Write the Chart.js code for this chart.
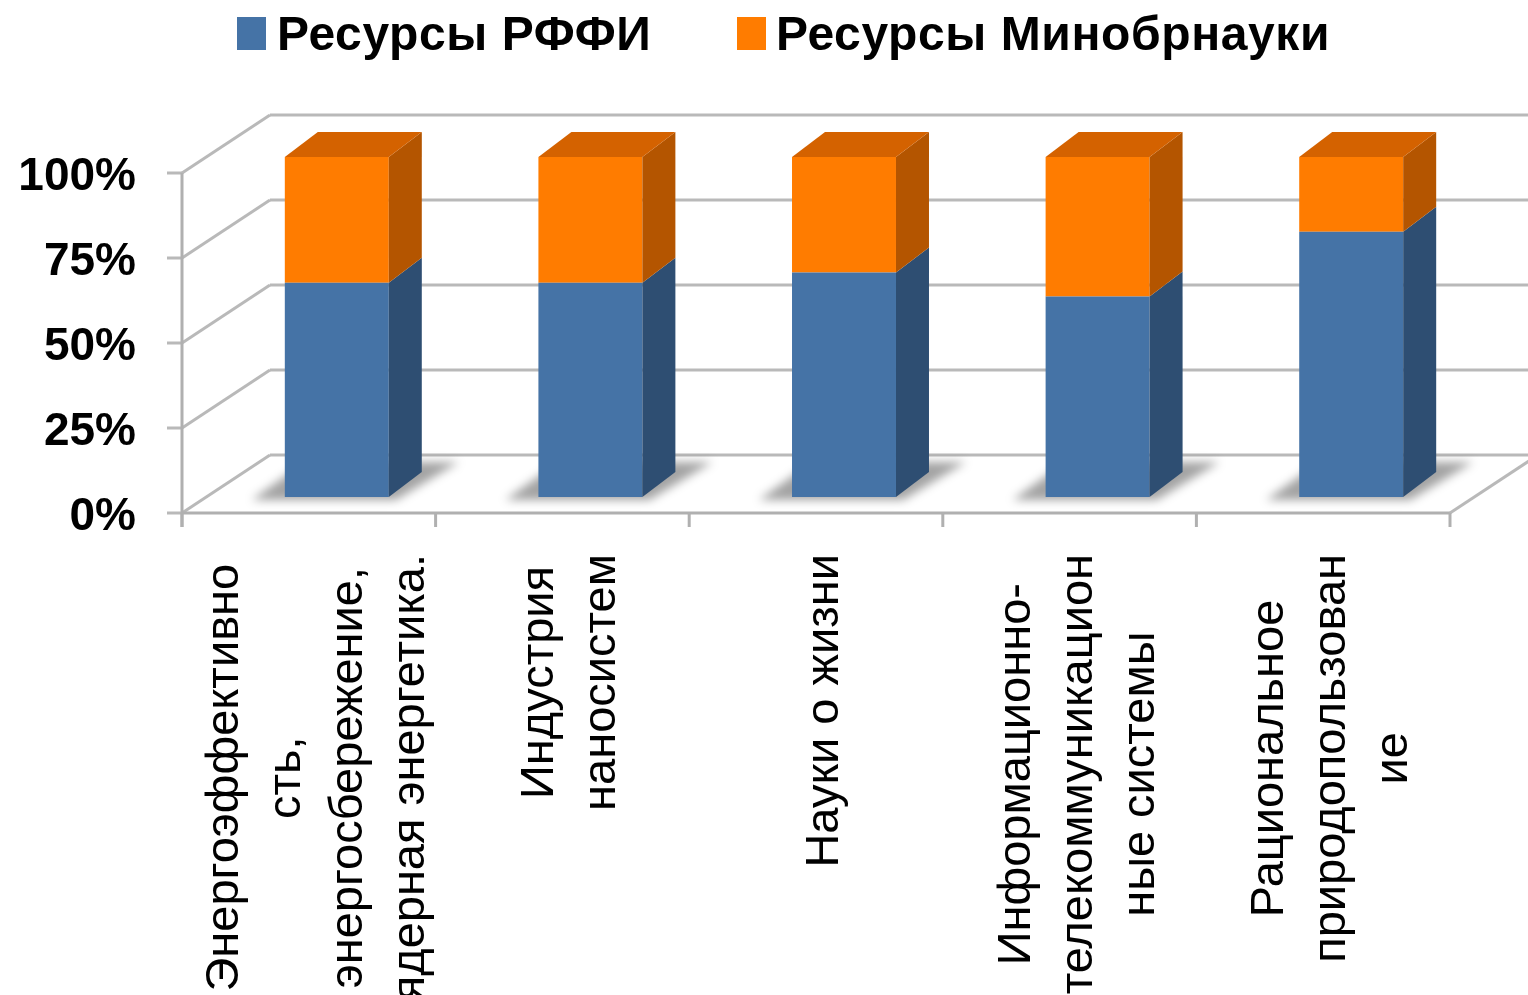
<!DOCTYPE html>
<html>
<head>
<meta charset="utf-8">
<script src="https://cdn.jsdelivr.net/npm/chart.js@4"></script>
<style>
  body { margin: 0; background: #fff; }
  #wrap { position: relative; width: 1528px; height: 995px; overflow: hidden; }
  #c { position: absolute; left: 0; top: 0; }
  .leg { position: absolute; top: 6px; height: 48px; line-height: 48px; font: bold 48px "Liberation Sans", Arial, sans-serif; letter-spacing: 0.6px; color: #000; white-space: nowrap; }
  .box { position: absolute; top: 17px; width: 29px; height: 33px; }
</style>
</head>
<body>
<div id="wrap">
  <canvas id="c" width="1528" height="995"></canvas>
  <div class="box" id="box0" style="left:237px"></div>
  <div class="leg" id="leg0" style="left:277px"></div>
  <div class="box" id="box1" style="left:737px"></div>
  <div class="leg" id="leg1" style="left:776px"></div>
</div>
<script>
// ---- data ----
const categories = [
  ['Энергоэффективно', 'сть,', 'энергосбережение,', 'ядерная энергетика.'],
  ['Индустрия', 'наносистем'],
  ['Науки о жизни'],
  ['Информационно-', 'телекоммуникацион', 'ные системы'],
  ['Рациональное', 'природопользован', 'ие']
];
const seriesNames = ['Ресурсы РФФИ', 'Ресурсы Минобрнауки'];
const rffi = [63, 63, 66, 59, 78];
const minobr = [37, 37, 34, 41, 22];
const yTickValues = [0, 25, 50, 75, 100];
const yTickLabels = ['0%', '25%', '50%', '75%', '100%'];

// ---- styles ----
const frontColors = ['#4573A6', '#FF7C00'];
const sideColors = ['#2E4E72', '#B45500'];
const topColors = ['#3A6290', '#D46200'];

document.getElementById('box0').style.background = frontColors[0];
document.getElementById('box1').style.background = frontColors[1];
document.getElementById('leg0').textContent = seriesNames[0];
document.getElementById('leg1').textContent = seriesNames[1];

const DEPTH = { dx: 33, dy: -25 };     // bar depth
const FRONT = { dx: -28, dy: 16 };     // axis plane relative to bar front plane
const WALL = { dx: 88, dy: -58 };      // back wall relative to axis plane

function line(ctx, x1, y1, x2, y2) {
  ctx.beginPath(); ctx.moveTo(x1, y1); ctx.lineTo(x2, y2); ctx.stroke();
}

const threeD = {
  id: 'threeD',
  beforeDatasetsDraw(chart) {
    const { ctx, chartArea: ca, scales: { x, y } } = chart;
    const n = categories.length;
    const slot = x.getPixelForValue(1) - x.getPixelForValue(0);
    const ax = ca.left + FRONT.dx;
    ctx.save();
    ctx.strokeStyle = '#b9b9b9';
    ctx.lineWidth = 3;
    yTickValues.forEach(v => {
      const py = y.getPixelForValue(v) + FRONT.dy;
      line(ctx, ax, py, ax + WALL.dx, py + WALL.dy);
      line(ctx, ax + WALL.dx, py + WALL.dy, chart.width + 5, py + WALL.dy);
      line(ctx, ax - 15, py, ax, py);
    });
    const y0 = y.getPixelForValue(0) + FRONT.dy;
    const y100 = y.getPixelForValue(100) + FRONT.dy;
    ctx.strokeStyle = '#b0b0b0';
    line(ctx, ax, y100, ax, y0 + 14);
    const rightEnd = x.getPixelForValue(n - 1) + slot / 2 + FRONT.dx;
    line(ctx, ax, y0, rightEnd, y0);
    ctx.strokeStyle = '#b9b9b9';
    line(ctx, rightEnd, y0, rightEnd + WALL.dx, y0 + WALL.dy);
    ctx.strokeStyle = '#b0b0b0';
    for (let i = 0; i <= n; i++) {
      const bx = x.getPixelForValue(0) - slot / 2 + i * slot + FRONT.dx;
      line(ctx, bx, y0, bx, y0 + 14);
    }
    // soft shadows on the floor
    const meta = chart.getDatasetMeta(0);
    ctx.filter = 'blur(5px)';
    ctx.fillStyle = 'rgba(0,0,0,0.36)';
    meta.data.forEach(el => {
      const p = el.getProps(['x', 'base', 'width'], true);
      const L = p.x - p.width / 2, R = p.x + p.width / 2, B = p.base;
      ctx.beginPath();
      ctx.moveTo(L - 33, B + 3);
      ctx.lineTo(R + 7, B + 3);
      ctx.lineTo(R + 70, B - 35);
      ctx.lineTo(L + 20, B - 35);
      ctx.closePath();
      ctx.fill();
    });
    ctx.filter = 'none';
    ctx.restore();
  },
  afterDatasetsDraw(chart) {
    const { ctx } = chart;
    const last = chart.data.datasets.length - 1;
    ctx.save();
    chart.data.datasets.forEach((ds, di) => {
      const meta = chart.getDatasetMeta(di);
      meta.data.forEach(el => {
        const p = el.getProps(['x', 'y', 'base', 'width'], true);
        const L = p.x - p.width / 2, R = p.x + p.width / 2;
        const top = Math.min(p.y, p.base), bot = Math.max(p.y, p.base);
        ctx.fillStyle = sideColors[di];
        ctx.beginPath();
        ctx.moveTo(R, top);
        ctx.lineTo(R + DEPTH.dx, top + DEPTH.dy);
        ctx.lineTo(R + DEPTH.dx, bot + DEPTH.dy);
        ctx.lineTo(R, bot);
        ctx.closePath();
        ctx.fill();
        if (di === last) {
          ctx.fillStyle = topColors[di];
          ctx.beginPath();
          ctx.moveTo(L, top);
          ctx.lineTo(L + DEPTH.dx, top + DEPTH.dy);
          ctx.lineTo(R + DEPTH.dx, top + DEPTH.dy);
          ctx.lineTo(R, top);
          ctx.closePath();
          ctx.fill();
        }
      });
    });
    ctx.restore();
  },
  afterDraw(chart) {
    const { ctx, scales: { x, y } } = chart;
    const labelTop = y.getPixelForValue(0) + 57;
    ctx.save();
    ctx.font = '47px "Liberation Sans", Arial, sans-serif';
    ctx.fillStyle = '#000';
    ctx.textAlign = 'center';
    ctx.textBaseline = 'middle';
    categories.forEach((lines, i) => {
      const cx = x.getPixelForValue(i) - 19;
      const maxW = Math.max(...lines.map(l => ctx.measureText(l).width));
      ctx.save();
      ctx.translate(cx, labelTop + maxW / 2);
      ctx.rotate(-Math.PI / 2);
      lines.forEach((l, j) => ctx.fillText(l, 0, (j - (lines.length - 1) / 2) * 62));
      ctx.restore();
    });
    ctx.restore();
  }
};

new Chart(document.getElementById('c'), {
  type: 'bar',
  data: {
    labels: categories,
    datasets: [
      { label: seriesNames[0], data: rffi, backgroundColor: frontColors[0] },
      { label: seriesNames[1], data: minobr, backgroundColor: frontColors[1] }
    ]
  },
  options: {
    responsive: false,
    animation: false,
    layout: { padding: { left: 0, top: 157, right: 50, bottom: 498 } },
    datasets: { bar: { categoryPercentage: 1, barPercentage: 0.41, borderWidth: 0 } },
    plugins: { legend: { display: false }, tooltip: { enabled: false } },
    scales: {
      x: {
        stacked: true,
        grid: { display: false, drawTicks: false },
        border: { display: false },
        ticks: { display: false }
      },
      y: {
        stacked: true,
        min: 0, max: 100,
        afterBuildTicks(s) { s.ticks = yTickValues.map(v => ({ value: v })); },
        afterFit(s) { s.width = 210; },
        grid: { display: false, drawTicks: false },
        border: { display: false },
        ticks: {
          padding: 74,
          labelOffset: 20,
          color: '#000',
          font: { family: '"Liberation Sans", Arial, sans-serif', size: 46, weight: 'bold' },
          callback: (v, i) => yTickLabels[i]
        }
      }
    }
  },
  plugins: [threeD]
});
</script>
</body>
</html>
